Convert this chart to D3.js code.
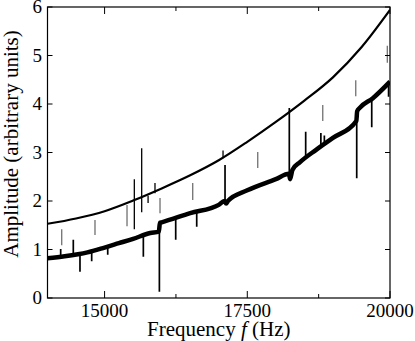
<!DOCTYPE html>
<html>
<head>
  <meta charset="utf-8">
  <title>Amplitude vs frequency</title>
  <script src="https://d3js.org/d3.v7.min.js"></script>
  <style>
    body { margin: 0; background: #fff; }
  </style>
</head>
<body>
  <svg></svg>
  <script>
    // chart size
    const width = 415;
    const height = 341;
    const plot = { left: 47.5, right: 390, top: 7, bottom: 298 };
    const serif = "'Liberation Serif', 'DejaVu Serif', serif";

    // axis ticks
    const xMajorTicks = [15000, 17500, 20000];
    const xMinorTicks = [16250, 18750];
    const yTicks = [0, 1, 2, 3, 4, 5, 6];

    // upper (smooth) curve: [frequency, amplitude]
    const upperCurve = [
      [14000, 1.53], [14500, 1.64], [15000, 1.79], [15500, 2.01],
      [16000, 2.26], [16500, 2.53], [17000, 2.84], [17500, 3.22],
      [18000, 3.63], [18500, 4.07], [19000, 4.55], [19500, 5.17],
      [20000, 5.94]
    ];
    // narrow features on the upper curve: [frequency, from, to]
    const upperSpikes = [
      [15521, 1.42, 2.45], [15650, 1.77, 3.09], [15762, 2.11, 1.96],
      [15883, 2.16, 2.37], [17075, 2.88, 3.04]
    ];

    // lower (noisy) curve baseline: [frequency, amplitude]
    const lowerCurve = [
      [14000, 0.82], [14300, 0.86], [14700, 0.94], [15000, 1.04],
      [15250, 1.13], [15500, 1.22], [15800, 1.34], [15950, 1.37],
      [15970, 1.55], [16000, 1.56], [16500, 1.75], [17000, 1.92],
      [17100, 2.00], [17130, 1.95], [17160, 2.00], [17500, 2.22],
      [18000, 2.45], [18230, 2.56], [18250, 2.45], [18290, 2.64],
      [18424, 2.80], [18700, 3.05], [19000, 3.30], [19410, 3.65],
      [19425, 3.85], [19470, 3.92], [19700, 4.12], [20000, 4.46]
    ];
    // resonance spikes and dips on the lower curve: [frequency, from, to]
    const lowerSpikes = [
      [14231, 0.85, 1.01], [14452, 0.88, 1.20], [14569, 0.90, 0.54],
      [14774, 0.96, 0.76], [15055, 1.05, 0.89], [15679, 1.30, 0.85],
      [15960, 1.37, 0.13], [16246, 1.64, 1.20], [16614, 1.79, 1.47],
      [17110, 2.00, 2.74], [18236, 2.55, 3.92], [18523, 2.88, 3.43],
      [18789, 3.11, 3.40], [18850, 3.16, 3.35], [19417, 3.65, 2.47],
      [19680, 4.08, 3.52], [19975, 4.40, 4.15]
    ];

    // grey resonance markers: [frequency, from, to]
    const markers = [
      [14249, 1.09, 1.42], [14832, 1.30, 1.61], [15393, 1.48, 1.92],
      [15971, 1.75, 2.06], [16544, 2.02, 2.37], [17683, 2.68, 3.01],
      [18822, 3.65, 3.98], [19400, 4.16, 4.49], [19953, 4.85, 5.20]
    ];

    const svg = d3.select("svg")
      .attr("width", width)
      .attr("height", height);

    const x = d3.scaleLinear().domain([14000, 20000]).range([plot.left, plot.right]);
    const y = d3.scaleLinear().domain([0, 6]).range([plot.bottom, plot.top]);

    const line = d3.line()
      .x(d => x(d[0]))
      .y(d => y(d[1]))
      .curve(d3.curveMonotoneX);

    svg.append("clipPath").attr("id", "clip")
      .append("rect")
      .attr("x", plot.left).attr("y", plot.top)
      .attr("width", plot.right - plot.left)
      .attr("height", plot.bottom - plot.top);

    const g = svg.append("g").attr("clip-path", "url(#clip)");

    function drawSpikes(data, color, w) {
      g.append("g").selectAll("line")
        .data(data)
        .enter().append("line")
          .attr("x1", d => x(d[0])).attr("x2", d => x(d[0]))
          .attr("y1", d => y(d[1])).attr("y2", d => y(d[2]))
          .attr("stroke", color)
          .attr("stroke-width", w);
    }

    drawSpikes(markers, "#707070", 1.3);

    g.append("path")
      .datum(lowerCurve)
      .attr("d", line)
      .attr("fill", "none")
      .attr("stroke", "#000")
      .attr("stroke-width", 4.5)
      .attr("stroke-linejoin", "round");
    drawSpikes(lowerSpikes, "#000", 1.7);

    g.append("path")
      .datum(upperCurve)
      .attr("d", line)
      .attr("fill", "none")
      .attr("stroke", "#000")
      .attr("stroke-width", 2.2);
    drawSpikes(upperSpikes, "#000", 1.3);

    // frame
    svg.append("rect")
      .attr("x", plot.left).attr("y", plot.top)
      .attr("width", plot.right - plot.left)
      .attr("height", plot.bottom - plot.top)
      .attr("fill", "none")
      .attr("stroke", "#000")
      .attr("stroke-width", 1.2);

    // x ticks (inward, bottom and top)
    const xTicks = xMajorTicks.map(v => [v, 7]).concat(xMinorTicks.map(v => [v, 4]));
    xTicks.forEach(t => {
      svg.append("line")
        .attr("x1", x(t[0])).attr("x2", x(t[0]))
        .attr("y1", plot.bottom).attr("y2", plot.bottom - t[1])
        .attr("stroke", "#000");
      svg.append("line")
        .attr("x1", x(t[0])).attr("x2", x(t[0]))
        .attr("y1", plot.top).attr("y2", plot.top + t[1])
        .attr("stroke", "#000");
    });

    // y ticks (inward, left and right)
    yTicks.forEach(v => {
      svg.append("line")
        .attr("x1", plot.left).attr("x2", plot.left + 5)
        .attr("y1", y(v)).attr("y2", y(v))
        .attr("stroke", "#000");
      svg.append("line")
        .attr("x1", plot.right).attr("x2", plot.right - 5)
        .attr("y1", y(v)).attr("y2", y(v))
        .attr("stroke", "#000");
    });

    svg.selectAll(".ylab")
      .data(yTicks)
      .enter().append("text")
        .attr("class", "ylab")
        .attr("font-family", serif)
        .attr("font-size", 19)
        .attr("x", 42)
        .attr("y", d => y(d))
        .attr("dy", "0.33em")
        .attr("text-anchor", "end")
        .text(d => d);

    svg.selectAll(".xlab")
      .data(xMajorTicks)
      .enter().append("text")
        .attr("class", "xlab")
        .attr("font-family", serif)
        .attr("font-size", 19)
        .attr("x", d => x(d))
        .attr("y", 316.5)
        .attr("text-anchor", "middle")
        .text(d => d);

    const xt = svg.append("text")
      .attr("font-family", serif)
      .attr("font-size", 21)
      .attr("x", (plot.left + plot.right) / 2)
      .attr("y", 336)
      .attr("text-anchor", "middle");
    xt.append("tspan").text("Frequency ");
    xt.append("tspan").attr("font-style", "italic").text("f");
    xt.append("tspan").text(" (Hz)");

    svg.append("text")
      .attr("font-family", serif)
      .attr("font-size", 21)
      .attr("transform", "translate(18,144)rotate(-90)")
      .attr("text-anchor", "middle")
      .text("Amplitude (arbitrary units)");
  </script>
</body>
</html>
